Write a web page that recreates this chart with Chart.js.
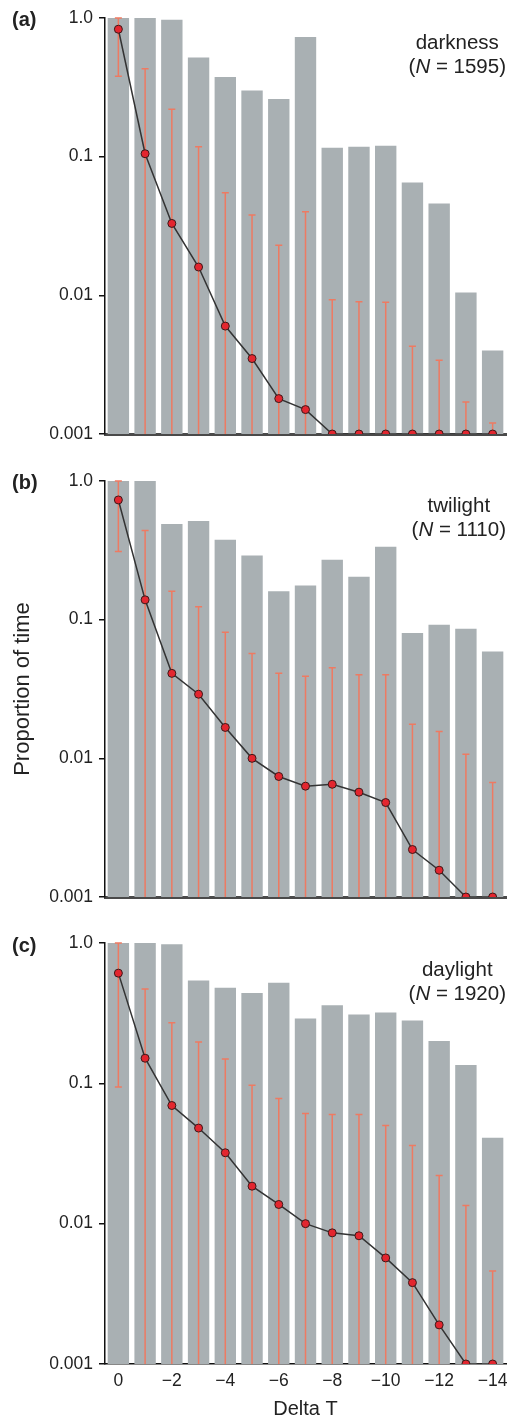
<!DOCTYPE html>
<html>
<head>
<meta charset="utf-8">
<script src="https://cdn.jsdelivr.net/npm/chart.js@4.4.1/dist/chart.umd.min.js"></script>
<style>
  html, body { margin: 0; padding: 0; background: #fff; }
  body { width: 508px; height: 1416px; position: relative; overflow: hidden; font-family: "Liberation Sans", Arial, sans-serif; color: #222; }
  .panel { position: absolute; left: 0; width: 508px; }
  .letter { position: absolute; font-weight: bold; font-size: 20px; line-height: 20px; }
  .note { position: absolute; right: 2px; text-align: center; font-size: 20.5px; line-height: 24px; }
  .ytitle { position: absolute; font-size: 22px; line-height: 22px; white-space: nowrap; transform: translate(-50%, -50%) rotate(-90deg); }
</style>
</head>
<body>
<div class="panel" style="top:0;height:452px"><canvas id="ca"></canvas></div>
<div class="panel" style="top:463px;height:452px"><canvas id="cb"></canvas></div>
<div class="panel" style="top:925px;height:494px"><canvas id="cc"></canvas></div>

<div class="letter" style="left:12px;top:9px">(a)</div>
<div class="letter" style="left:12px;top:472px">(b)</div>
<div class="letter" style="left:12px;top:935px">(c)</div>

<div class="note" style="top:30px">darkness<br>(<i>N</i> = 1595)</div>
<div class="note" style="top:493px">twilight<br>(<i>N</i> = 1110)</div>
<div class="note" style="top:957px">daylight<br>(<i>N</i> = 1920)</div>

<div class="ytitle" style="left:22px;top:689px">Proportion of time</div>

<script>
// ---- Data ----
const categories = ['0','\u22121','\u22122','\u22123','\u22124','\u22125','\u22126','\u22127','\u22128','\u22129','\u221210','\u221211','\u221212','\u221213','\u221214'];
const yTickValues = [0.001, 0.01, 0.1, 1];
const yTickLabels = ['0.001', '0.01', '0.1', '1.0'];

// (a) darkness
const darknessMax  = [1.0, 1.0, 0.97, 0.52, 0.376, 0.30, 0.26, 0.73, 0.116, 0.118, 0.12, 0.065, 0.046, 0.0105, 0.004];
const darknessMean = [0.83, 0.105, 0.033, 0.016, 0.006, 0.0035, 0.0018, 0.0015, 0.001, 0.001, 0.001, 0.001, 0.001, 0.001, 0.001];
const darknessLow  = [0.38, 0.001, 0.001, 0.001, 0.001, 0.001, 0.001, 0.001, 0.001, 0.001, 0.001, 0.001, 0.001, 0.001, 0.001];
const darknessHigh = [1.0, 0.43, 0.22, 0.118, 0.055, 0.038, 0.023, 0.04, 0.0093, 0.009, 0.0089, 0.0043, 0.0034, 0.0017, 0.0012];

// (b) twilight
const twilightMax  = [1.0, 1.0, 0.49, 0.515, 0.377, 0.29, 0.16, 0.176, 0.27, 0.204, 0.335, 0.08, 0.092, 0.086, 0.059];
const twilightMean = [0.73, 0.139, 0.041, 0.029, 0.0167, 0.010, 0.0074, 0.0063, 0.0065, 0.0057, 0.0048, 0.0022, 0.00156, 0.001, 0.001];
const twilightLow  = [0.31, 0.001, 0.001, 0.001, 0.001, 0.001, 0.001, 0.001, 0.001, 0.001, 0.001, 0.001, 0.001, 0.001, 0.001];
const twilightHigh = [1.0, 0.44, 0.16, 0.124, 0.081, 0.057, 0.041, 0.039, 0.045, 0.04, 0.04, 0.0176, 0.0156, 0.0107, 0.0067];

// (c) daylight
const daylightMax  = [1.0, 1.0, 0.98, 0.54, 0.48, 0.44, 0.52, 0.29, 0.36, 0.31, 0.32, 0.28, 0.20, 0.135, 0.041];
const daylightMean = [0.61, 0.151, 0.0695, 0.048, 0.032, 0.0185, 0.0137, 0.010, 0.0086, 0.0082, 0.0057, 0.0038, 0.0019, 0.001, 0.001];
const daylightLow  = [0.094, 0.001, 0.001, 0.001, 0.001, 0.001, 0.001, 0.001, 0.001, 0.001, 0.001, 0.001, 0.001, 0.001, 0.001];
const daylightHigh = [1.0, 0.47, 0.27, 0.197, 0.149, 0.097, 0.078, 0.061, 0.06, 0.06, 0.05, 0.036, 0.022, 0.0135, 0.0046];

const FONT = '"Liberation Sans", Arial, sans-serif';
const Y_MIN = 0.001, Y_MAX = 1;

function errorBars(low, high) {
  return {
    id: 'errbars',
    afterDatasetDraw(chart, args) {
      if (args.index !== 0) return;
      const ctx = chart.ctx, xs = chart.scales.x, ys = chart.scales.y;
      ctx.save();
      ctx.strokeStyle = '#ee7a62';
      ctx.lineWidth = 1.5;
      for (let i = 0; i < high.length; i++) {
        const px = xs.getPixelForValue(i);
        const yl = ys.getPixelForValue(low[i]);
        const yh = ys.getPixelForValue(high[i]);
        ctx.beginPath();
        ctx.moveTo(px, yl); ctx.lineTo(px, yh);
        ctx.moveTo(px - 3.5, yh); ctx.lineTo(px + 3.5, yh);
        if (low[i] > Y_MIN) { ctx.moveTo(px - 3.5, yl); ctx.lineTo(px + 3.5, yl); }
        ctx.stroke();
      }
      ctx.restore();
    }
  };
}

function makeChart(id, maxVals, meanVals, low, high, bottomPanel) {
  const xScale = {
    type: 'category',
    offset: true,
    afterFit: s => { s.paddingLeft = 0; s.paddingRight = 0; },
    grid: { display: false, drawTicks: false },
    border: bottomPanel ? { display: true, color: '#111', width: 1.5 } : { display: true, color: '#4a4a4a', width: 3 },
    ticks: {
      display: bottomPanel,
      autoSkip: false,
      maxRotation: 0,
      padding: 7,
      color: '#222',
      font: { family: FONT, size: 17.5 },
      callback: (v, i) => (i % 2 === 0 ? categories[i] : '')
    },
    title: {
      display: bottomPanel,
      text: 'Delta T',
      color: '#222',
      font: { family: FONT, size: 20, lineHeight: 1.0 },
      padding: { top: 0, bottom: 0 }
    }
  };
  return new Chart(document.getElementById(id), {
    type: 'bar',
    data: {
      labels: categories,
      datasets: [
        {
          type: 'bar',
          data: maxVals.map(v => [Y_MIN, v]),
          backgroundColor: '#a9b0b3',
          borderWidth: 0,
          barPercentage: 0.8,
          categoryPercentage: 1.0,
          order: 2
        },
        {
          type: 'line',
          data: meanVals,
          borderColor: '#333',
          borderWidth: 1.5,
          tension: 0,
          pointRadius: 4,
          pointBackgroundColor: '#e3262f',
          pointBorderColor: '#3a1a1a',
          pointBorderWidth: 1,
          order: 1
        }
      ]
    },
    options: {
      responsive: true,
      maintainAspectRatio: false,
      animation: false,
      devicePixelRatio: 1,
      layout: { autoPadding: false, padding: { top: 18, right: 2, left: 0, bottom: bottomPanel ? 0 : 18 } },
      plugins: { legend: { display: false }, tooltip: { enabled: false } },
      scales: {
        x: xScale,
        y: {
          type: 'logarithmic',
          min: Y_MIN,
          max: Y_MAX,
          afterBuildTicks: s => { s.ticks = yTickValues.map(v => ({ value: v })); },
          afterFit: s => { s.width = 105; },
          grid: { display: true, drawOnChartArea: false, drawTicks: true, tickLength: 6, color: '#111', lineWidth: 1.5 },
          border: { display: true, color: '#111', width: 1.5 },
          ticks: {
            padding: 6,
            color: '#222',
            font: { family: FONT, size: 17.5 },
            callback: v => { const i = yTickValues.indexOf(v); return i >= 0 ? yTickLabels[i] : ''; }
          }
        }
      }
    },
    plugins: [errorBars(low, high)]
  });
}

makeChart('ca', darknessMax, darknessMean, darknessLow, darknessHigh, false);
makeChart('cb', twilightMax, twilightMean, twilightLow, twilightHigh, false);
makeChart('cc', daylightMax, daylightMean, daylightLow, daylightHigh, true);
</script>
</body>
</html>
